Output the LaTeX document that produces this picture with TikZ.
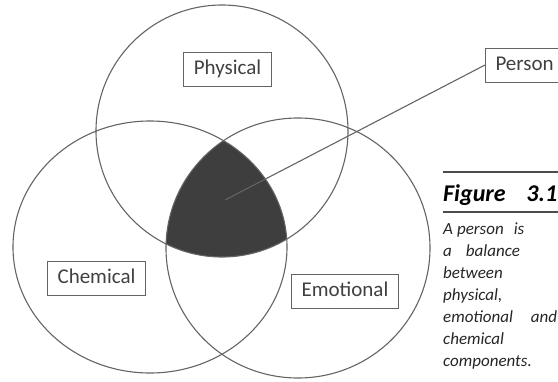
\documentclass[tikz,border=0pt]{standalone}
\usepackage{fontspec}
\setmainfont{Carlito}
\usetikzlibrary{positioning}
\usepackage{xcolor}

\definecolor{inkgray}{RGB}{100,100,100}
\definecolor{corefill}{RGB}{62,62,62}

\begin{document}
\begin{tikzpicture}[x=1pt, y=-1pt,
    label box/.style={draw=inkgray, line width=1pt, text=black!75, font=\fontsize{21}{24}\selectfont,
        inner xsep=10pt, inner ysep=8pt, text height=14pt, text depth=4pt},
    rule/.style={line width=2pt, black!70}]

\useasboundingbox (0,0) rectangle (558,381);

% physical / chemical / emotional
\def\spheres{222/131/126/126, 150/247/137/126, 298/248/132/130}

    % the part all three share
    \begin{scope}
        \clip (222,131) ellipse [x radius=126pt, y radius=126pt];
        \clip (150,247) ellipse [x radius=137pt, y radius=126pt];
        \fill[corefill] (298,248) ellipse [x radius=132pt, y radius=130pt];
    \end{scope}

    \foreach \cx/\cy/\rx/\ry in \spheres {
        \draw[inkgray, line width=1.1pt] (\cx,\cy) ellipse [x radius=\rx pt, y radius=\ry pt];
    }

    \node[label box] (physical) at (227.5,69) {Physical};
    \node[label box] (chemical) at (96.5,278) {Chemical};
    \node[label box] (emotional) at (345,291) {Emotional};
    \node[label box, anchor=west] (person) at (485,65) {Person};

    \coordinate (core) at (225,200);
    \draw[inkgray, line width=1.1pt] (core) -- (person.west);

    % caption
    \draw[rule] (443,172) -- (558,172);
    \node[anchor=base west, inner sep=0pt, text width=114pt,
        font=\fontsize{24}{28}\selectfont\bfseries\itshape] (figtitle) at (443,201) {Figure\hfill 3.1};
    \draw[rule] (443,212) -- (558,212);

    \node[anchor=north west, inner sep=0pt, text width=114pt, align=left, text=black!85,
        font=\fontsize{17}{22}\selectfont\itshape] (figtext) at (443,223)
        {A\hspace{4pt}person\hspace{10pt}is\\
         a\hspace{14pt}balance\\
         between\\
         physical,\\
         emotional\hfill and\\
         chemical\\
         components.};

\end{tikzpicture}
\end{document}
